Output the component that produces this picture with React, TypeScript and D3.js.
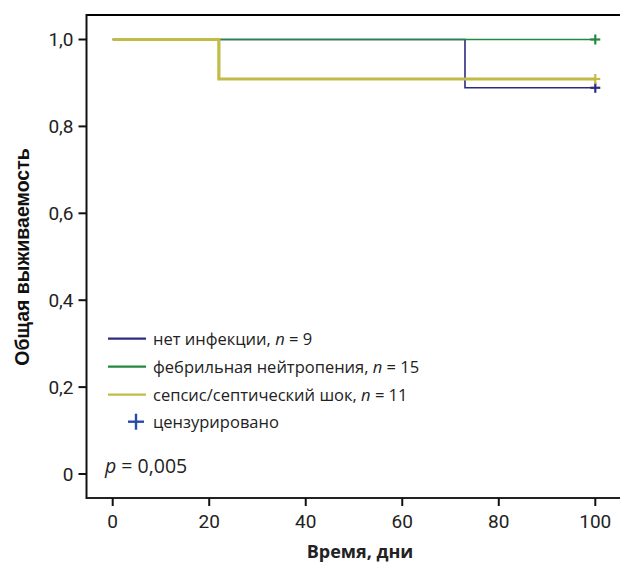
import React from "react";
import * as d3 from "d3";

const seriesLabels = ["нет инфекции", "фебрильная нейтропения", "сепсис/септический шок"];
const seriesN = [9, 15, 11];
const noInfTimes = [0, 73, 100];
const noInfSurv = [1, 8 / 9, 8 / 9];
const febTimes = [0, 100];
const febSurv = [1, 1];
const sepTimes = [0, 22, 100];
const sepSurv = [1, 10 / 11, 10 / 11];
const censorTimes = [100];
const xTicks = [0, 20, 40, 60, 80, 100];
const yTicks = [0, 0.2, 0.4, 0.6, 0.8, 1.0];
const pText = "0,005";

const colors = ["#2c2c82", "#24893e", "#c2bb48"];
const widths = [1.6, 1.6, 3.2];

const W = 620;
const H = 563;
const axisX = 86.5;
const topY = 15;
const bottomY = 498;

const x = d3.scaleLinear().domain([0, 100]).range([112.7, 595.3]);
const y = d3.scaleLinear().domain([0, 1]).range([474, 39.5]);

const fmtY = (v: number) => (v === 0 ? "0" : v.toFixed(1).replace(".", ","));

export default function App() {
  const series = [
    { t: noInfTimes, s: noInfSurv },
    { t: febTimes, s: febSurv },
    { t: sepTimes, s: sepSurv },
  ];
  const line = d3
    .line<[number, number]>()
    .x((d) => x(d[0]))
    .y((d) => y(d[1]))
    .curve(d3.curveStepAfter);
  const tickFont = "Roboto, 'Noto Sans', sans-serif";
  const textFont = "'Open Sans', Roboto, sans-serif";
  const legendY = [338.7, 366.7, 394.7];
  return (
    <svg
      width={W}
      height={H}
      style={{ position: "absolute", left: 0, top: 0, background: "#fff" }}
    >
      <rect x={0} y={0} width={W} height={H} fill="#fff" />
      {/* frame */}
      <line x1={axisX} x2={W} y1={topY} y2={topY} stroke="#000" strokeWidth={2.2} />
      <line x1={axisX} x2={axisX} y1={topY - 1} y2={bottomY + 1} stroke="#111" strokeWidth={2} />
      <line x1={axisX} x2={W} y1={bottomY} y2={bottomY} stroke="#222" strokeWidth={1.8} />
      {/* y ticks */}
      {yTicks.map((v) => (
        <g key={"y" + v}>
          <line x1={axisX - 8} x2={axisX} y1={y(v)} y2={y(v)} stroke="#111" strokeWidth={2} />
          <text
            x={axisX - 13}
            y={y(v)}
            dy="0.36em"
            textAnchor="end"
            fontFamily={tickFont}
            fontSize={19}
            fill="#222"
          >
            {fmtY(v)}
          </text>
        </g>
      ))}
      {/* x ticks */}
      {xTicks.map((v) => (
        <g key={"x" + v}>
          <line x1={x(v)} x2={x(v)} y1={bottomY} y2={bottomY + 8} stroke="#111" strokeWidth={2} />
          <text
            x={x(v)}
            y={528}
            textAnchor="middle"
            fontFamily={tickFont}
            fontSize={19}
            fill="#222"
          >
            {v}
          </text>
        </g>
      ))}
      {/* axis titles */}
      <text
        x={360}
        y={558}
        textAnchor="middle"
        fontFamily={textFont}
        fontWeight={700}
        fontSize={18}
        fill="#222"
      >
        Время, дни
      </text>
      <text
        transform="translate(29,257) rotate(-90)"
        textAnchor="middle"
        fontFamily="'Liberation Sans', Arial, sans-serif"
        fontWeight={700}
        fontSize={19.5}
        fill="#111"
      >
        Общая выживаемость
      </text>
      {/* curves */}
      {series.map((sr, i) => (
        <path
          key={"c" + i}
          d={line(sr.t.map((t, j) => [t, sr.s[j]] as [number, number])) || ""}
          fill="none"
          stroke={colors[i]}
          strokeWidth={widths[i]}
        />
      ))}
      {/* censor marks */}
      {series.map((sr, i) =>
        censorTimes.map((ct) => {
          const idx = d3.bisectRight(sr.t, ct) - 1;
          const cx = x(ct);
          const cy = y(sr.s[idx]);
          return (
            <g key={"m" + i + ct} stroke={colors[i]} strokeWidth={2.2}>
              <line x1={cx - 5} x2={cx + 5} y1={cy} y2={cy} />
              <line x1={cx} x2={cx} y1={cy - 5} y2={cy + 5} />
            </g>
          );
        })
      )}
      {/* legend */}
      {seriesLabels.map((lab, i) => (
        <g key={"l" + i}>
          <line x1={108} x2={146} y1={legendY[i]} y2={legendY[i]} stroke={colors[i]} strokeWidth={2.2} />
          <text
            x={153}
            y={legendY[i]}
            dy="0.36em"
            fontFamily={textFont}
            fontSize={16.5}
            fill="#222"
          >
            {lab}, <tspan fontStyle="italic">n</tspan> = {seriesN[i]}
          </text>
        </g>
      ))}
      <g stroke="#2a4aa6" strokeWidth={2.4}>
        <line x1={128} x2={144} y1={421.7} y2={421.7} />
        <line x1={136} x2={136} y1={413.7} y2={429.7} />
      </g>
      <text x={153} y={421.7} dy="0.36em" fontFamily={textFont} fontSize={16.5} fill="#222">
        цензурировано
      </text>
      <text x={105} y={473} fontFamily={textFont} fontSize={19.5} fill="#222">
        <tspan fontStyle="italic">p</tspan> = {pText}
      </text>
    </svg>
  );
}
